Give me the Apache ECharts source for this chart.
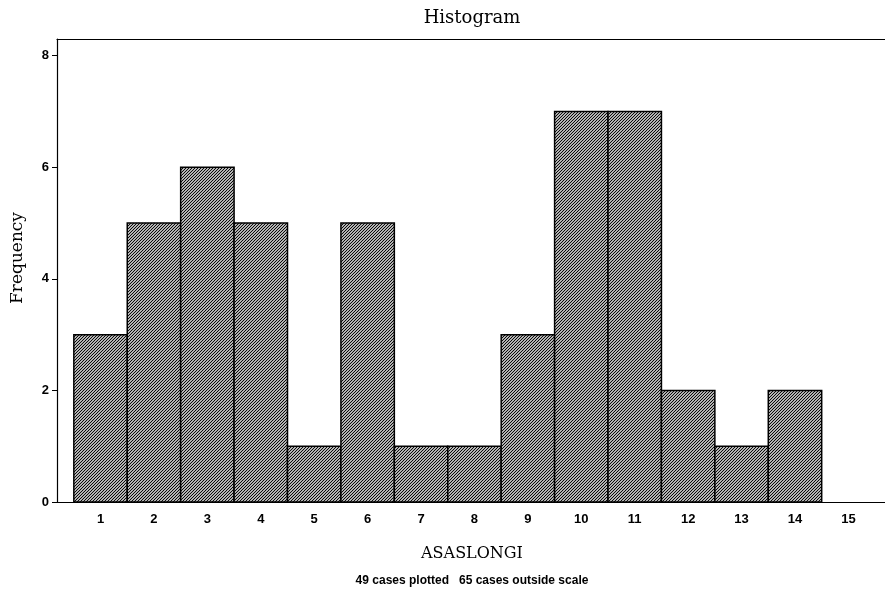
<!DOCTYPE html>
<html>
<head>
<meta charset="utf-8">
<script src="https://cdn.jsdelivr.net/npm/echarts@6/dist/echarts.min.js"></script>
<style>html,body{margin:0;padding:0;background:#fff;}#c{width:885px;height:597px;}</style>
</head>
<body>
<div id="c"></div>
<script>
const categories = [1,2,3,4,5,6,7,8,9,10,11,12,13,14];
const frequencies = [3,5,6,5,1,5,1,1,3,7,7,2,1,2];
const xTickLabels = [1,2,3,4,5,6,7,8,9,10,11,12,13,14,15];
const yTickLabels = [0,2,4,6,8];

const tile = document.createElement('canvas');
tile.width = 3; tile.height = 3;
const g = tile.getContext('2d');
g.fillStyle = '#fff'; g.fillRect(0,0,3,3);
g.strokeStyle = '#000'; g.lineWidth = 1.15;
g.beginPath();
g.moveTo(-1,4); g.lineTo(4,-1);
g.moveTo(-4,4); g.lineTo(1,-1);
g.moveTo(2,4); g.lineTo(7,-1);
g.stroke();

const serif = '"DejaVu Serif", "Liberation Serif", serif';
const chart = echarts.init(document.getElementById('c'));
chart.setOption({
  animation: false,
  backgroundColor: '#fff',
  grid: {left: 57, right: 0, top: 39, bottom: 95, show: false},
  xAxis: [{
    type: 'value', min: 0.185, max: 15.685,
    splitLine: {show: false},
    axisLine: {show: true, lineStyle: {color: '#000', width: 1.2}},
    axisTick: {show: false},
    axisLabel: {customValues: xTickLabels, color: '#000', fontFamily: 'Liberation Sans, Arial', fontWeight: 'bold', fontSize: 13, margin: 11}
  }, {
    type: 'value', position: 'top', min: 0.185, max: 15.685,
    splitLine: {show: false},
    axisLine: {show: true, lineStyle: {color: '#000', width: 1.2}},
    axisTick: {show: false},
    axisLabel: {show: false}
  }],
  yAxis: {
    type: 'value', min: 0, max: 8.3,
    splitLine: {show: false},
    axisLine: {show: true, lineStyle: {color: '#000', width: 1.2}},
    axisTick: {show: true, customValues: yTickLabels, length: 5, lineStyle: {color: '#000'}},
    axisLabel: {customValues: yTickLabels, color: '#000', fontFamily: 'Liberation Sans, Arial', fontWeight: 'bold', fontSize: 13, margin: 8}
  },
  graphic: [
    {type: 'text', x: 472, y: 18, style: {text: 'Histogram', font: '18px ' + serif, fill: '#000', align: 'center', verticalAlign: 'middle'}},
    {type: 'text', x: 472, y: 554, style: {text: 'ASASLONGI', font: '16px ' + serif, fill: '#000', align: 'center', verticalAlign: 'middle'}},
    {type: 'text', x: 472, y: 581, style: {text: '49 cases plotted   65 cases outside scale', font: 'bold 12px "Liberation Sans", Arial, sans-serif', fill: '#000', align: 'center', verticalAlign: 'middle'}},
    {type: 'text', x: 18, y: 258, rotation: Math.PI/2, style: {text: 'Frequency', font: '17px ' + serif, fill: '#000', align: 'center', verticalAlign: 'middle'}}
  ],
  series: [{
    type: 'custom',
    data: categories.map((c, i) => [c, frequencies[i]]),
    renderItem: function (params, api) {
      const x = api.value(0), y = api.value(1);
      const p0 = api.coord([x - 0.5, y]);
      const p1 = api.coord([x + 0.5, 0]);
      return {
        type: 'rect',
        shape: {x: p0[0], y: p0[1], width: p1[0] - p0[0], height: p1[1] - p0[1]},
        style: {fill: {image: tile, repeat: 'repeat'}, stroke: '#000', lineWidth: 1.5}
      };
    }
  }]
});
</script>
</body>
</html>
